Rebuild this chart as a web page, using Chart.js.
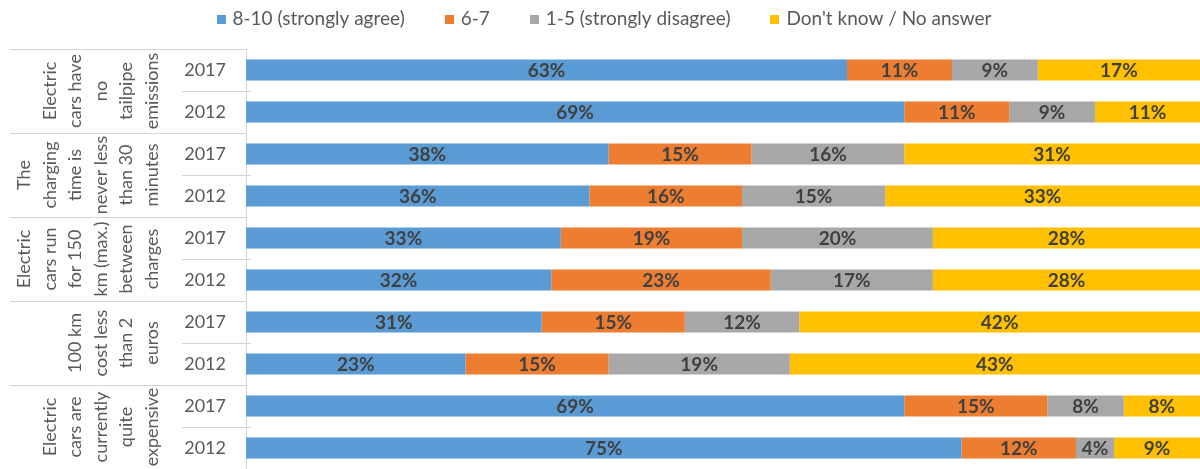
<!DOCTYPE html>
<html>
<head>
<meta charset="utf-8">
<script src="https://cdn.jsdelivr.net/npm/chart.js@4.4.1/dist/chart.umd.min.js"></script>
<style>
  html, body { margin: 0; padding: 0; background: #ffffff; }
  #wrap { width: 1200px; height: 469px; position: relative; }
</style>
</head>
<body>
<div id="wrap"><canvas id="c" width="1200" height="469"></canvas></div>
<script>
// ---- data ----
const years = ["2017", "2012", "2017", "2012", "2017", "2012", "2017", "2012", "2017", "2012"];
const groupLabels = [
  ["Electric", "cars have", "no", "tailpipe", "emissions"],
  ["The", "charging", "time is", "never less", "than 30", "minutes"],
  ["Electric", "cars run", "for 150", "km (max.)", "between", "charges"],
  ["100 km", "cost less", "than 2", "euros"],
  ["Electric", "cars are", "currently", "quite", "expensive"]
];
const seriesNames = ["8-10 (strongly agree)", "6-7", "1-5 (strongly disagree)", "Don't know / No answer"];
const agree      = [63, 69, 38, 36, 33, 32, 31, 23, 69, 75];
const mid        = [11, 11, 15, 16, 19, 23, 15, 15, 15, 12];
const disagree   = [9, 9, 16, 15, 20, 17, 12, 19, 8, 4];
const dontKnow   = [17, 11, 31, 33, 28, 28, 42, 43, 8, 9];

// ---- styles ----
const FONT = "Lato, 'Open Sans', sans-serif";
const textGray = "#595959";
const labelDark = "#404040";

function grayPattern() {
  const p = document.createElement("canvas");
  p.width = 2; p.height = 2;
  const g = p.getContext("2d");
  g.fillStyle = "#adadad"; g.fillRect(0, 0, 2, 2);
  g.fillStyle = "#a2a2a2"; g.fillRect(0, 0, 1, 1); g.fillRect(1, 1, 1, 1);
  return g.createPattern(p, "repeat");
}
const ctx0 = document.getElementById("c").getContext("2d");
const grayFill = grayPattern();

const colors = ["#5b9bd5", "#ed7d31", grayFill, "#ffc000"];
const values = [agree, mid, disagree, dontKnow];

const datasets = seriesNames.map((n, i) => ({
  label: n,
  data: values[i],
  backgroundColor: colors[i],
  borderWidth: 0,
  barPercentage: 0.5,
  categoryPercentage: 1.0
}));

// plugin: value labels inside segments
const valueLabels = {
  id: "valueLabels",
  afterDatasetsDraw(chart) {
    const ctx = chart.ctx;
    ctx.save();
    ctx.font = "bold 19px " + FONT;
    ctx.fillStyle = labelDark;
    ctx.textAlign = "center";
    ctx.textBaseline = "middle";
    chart.data.datasets.forEach((ds, di) => {
      const meta = chart.getDatasetMeta(di);
      meta.data.forEach((el, i) => {
        const p = el.getProps(["x", "y", "base"], true);
        ctx.fillText(ds.data[i] + "%", (p.x + p.base) / 2, p.y + 1);
      });
    });
    ctx.restore();
  }
};

// plugin: legend row at the top (drawn from the datasets)
const topLegend = {
  id: "topLegend",
  afterDraw(chart) {
    const ctx = chart.ctx;
    ctx.save();
    ctx.font = "19px " + FONT;
    ctx.textBaseline = "middle";
    ctx.textAlign = "left";
    const box = 9, boxGap = 7, itemGap = 40, cy = 19;
    const dss = chart.data.datasets;
    const widths = dss.map(d => box + boxGap + ctx.measureText(d.label).width);
    const total = widths.reduce((a, b) => a + b, 0) + itemGap * (dss.length - 1);
    let x = 604 - total / 2;
    dss.forEach((d, i) => {
      ctx.fillStyle = d.backgroundColor;
      ctx.fillRect(Math.round(x), cy - 4, box, box);
      ctx.fillStyle = textGray;
      ctx.fillText(d.label, x + box + boxGap, cy);
      x += widths[i] + itemGap;
    });
    ctx.restore();
  }
};

// plugin: group labels + separators on the left axis
const groupAxis = {
  id: "groupAxis",
  afterDraw(chart) {
    const ctx = chart.ctx;
    const ys = chart.scales.y;
    const n = years.length;
    const step = ys.getPixelForValue(1) - ys.getPixelForValue(0);
    const boundary = (i) => ys.getPixelForValue(i) - step / 2;
    const axisX = chart.chartArea.left;
    ctx.save();
    ctx.strokeStyle = "#d4d4d4";
    ctx.lineWidth = 1;
    for (let i = 0; i < n; i++) {
      const y = Math.round(boundary(i)) + 0.5;
      ctx.beginPath();
      if (i % 2 === 0) { ctx.moveTo(10, y); ctx.lineTo(axisX, y); }
      else { ctx.moveTo(182, y); ctx.lineTo(axisX + 5, y); }
      ctx.stroke();
    }
    ctx.font = "18px " + FONT;
    ctx.fillStyle = textGray;
    ctx.textAlign = "center";
    ctx.textBaseline = "middle";
    const lineGap = 25.5;
    const lastX = 152;
    groupLabels.forEach((lines, g) => {
      const yc = (boundary(2 * g) + boundary(2 * g + 2)) / 2;
      const m = lines.length;
      lines.forEach((t, j) => {
        const x = lastX - (m - 1 - j) * lineGap;
        ctx.save();
        ctx.translate(x, yc);
        ctx.rotate(-Math.PI / 2);
        ctx.fillText(t, 0, 0);
        ctx.restore();
      });
    });
    ctx.restore();
  }
};

new Chart(ctx0, {
  type: "bar",
  data: { labels: years, datasets },
  plugins: [valueLabels, groupAxis, topLegend],
  options: {
    indexAxis: "y",
    responsive: false,
    animation: false,
    layout: { padding: { top: 49, bottom: -2, left: 0, right: 0 } },
    plugins: {
      tooltip: { enabled: false },
      legend: { display: false }
    },
    scales: {
      x: { display: false, stacked: true, min: 0, max: 100 },
      y: {
        stacked: true,
        afterFit(scale) {
          scale.width = 246;
          scale.paddingTop = 0;
          scale.paddingBottom = 0;
        },
        grid: { display: false, drawTicks: false },
        border: { display: true, color: "#d4d4d4", width: 1 },
        ticks: {
          padding: 20,
          color: textGray,
          font: { family: FONT, size: 18 }
        }
      }
    }
  }
});
</script>
</body>
</html>
